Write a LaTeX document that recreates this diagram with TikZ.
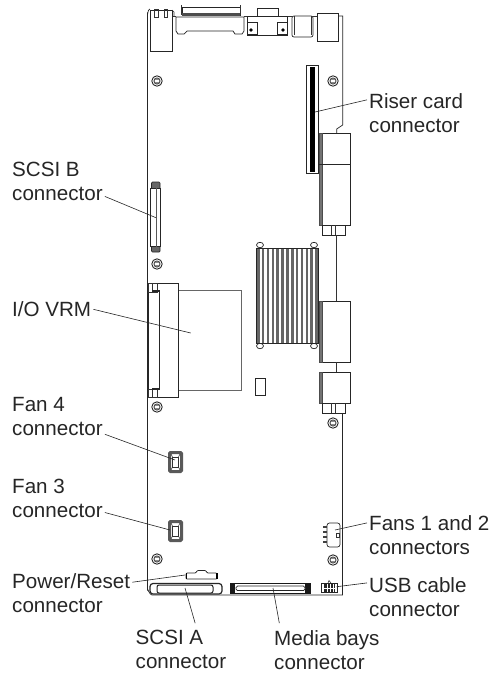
\documentclass[tikz,border=0pt]{standalone}
\usepackage{fontspec}
\setmainfont{Liberation Sans}
\begin{document}
\begin{tikzpicture}[x=1pt,y=-1pt,
  part/.style={draw=black!85,line width=0.7pt,fill=white},
  thin part/.style={draw=black!80,line width=0.55pt},
  grayband/.style={fill=black!55,draw=black!70,line width=0.4pt},
  lead/.style={draw=black!85,line width=0.6pt},
  lbl/.style={align=left,inner sep=2pt,text=black!85,font=\fontsize{20.6}{24}\selectfont},
  screw/.style={draw=black!85,line width=0.9pt,fill=white}]
\useasboundingbox (0,0) rectangle (494,673);
\fill[white] (0,0) rectangle (494,673);
% board outline
\draw[part,fill=none] (150,9) to[out=180,in=-90] (147.5,15) -- (147.5,590) to[out=90,in=180] (152,595) -- (342.5,595) -- (342.5,413) -- (335,413);
\draw[part,fill=none] (338,16) -- (342.7,16) -- (342.7,125) -- (336.7,129) -- (336.7,133);
\foreach \a/\b in {172/176,244/247,287/292,313/317}{\draw[thin part] (\a,16.5) -- (\b,16.5);}
% rj45
\draw[part] (150,10) rectangle (172,51);
\draw[thin part] (154,9) rectangle (158,17);
\draw[thin part] (164,9) rectangle (167,17);
\draw[thin part] (172,10) -- (174,12) -- (174,16);
% large D connector
\draw[part] (182,7) rectangle (240,15);
\fill[black!70] (182,13) rectangle (240,16);
\draw[thin part] (181,5) -- (181,15);
\draw[thin part] (240,5) -- (240,15);
\draw[part] (176,17) -- (244,17) -- (244,31) -- (242,34) -- (235,34) -- (233,31) -- (187,31) -- (184,34) -- (178,34) -- (176,31) -- cycle;
% vga
\draw[part] (257,8) rectangle (278,16);
\draw[part] (247,16) rectangle (287,35);
\draw[part] (247,22) rectangle (257,34);
\draw[part] (277,22) rectangle (287,34);
\fill[black] (251,30) circle (1.8);
\fill[black] (283,30) circle (1.8);
% usb / audio blocks
\draw[part,rounded corners=2pt] (292,16) -- (292,37) -- (313,37) -- (313,16) -- cycle;
\draw[thin part] (294,16) -- (294,35);
\draw[thin part] (311,16) -- (311,35);
\draw[part] (317,13) rectangle (338,41);
% screws
\foreach \n/\x/\y in {s1/157/81,s2/333/81,s3/157/264,s4/157/407,s5/333/423,s6/157/559,s7/333/560}{
  \draw[screw] (\x,\y) circle (5.2);
  \draw[thin part,fill=black!45] (\x,\y) circle (3.2);
  \fill[white] (\x-1.6,\y-0.9) rectangle (\x+1.6,\y+0.9);
}
% riser slot
\draw[part] (306,65) rectangle (318,173);
\fill[black] (309.5,67) rectangle (315,172);
% right stack
\draw[part] (319,133) rectangle (350,225);
\draw[grayband] (319,133) rectangle (322,225);
\draw[part,line width=0.9pt] (319,164) -- (350,164);
\draw[part] (322,225) rectangle (345,235);
\draw[thin part] (331,225) -- (331,235);
\draw[thin part] (335,225) -- (335,235);
\draw[thin part] (336,235) -- (336,301);
\draw[part] (319,301) rectangle (350,362);
\draw[grayband] (319,301) rectangle (322,362);
\draw[thin part] (336,362) -- (336,372);
\draw[part] (319,372) rectangle (350,403);
\draw[grayband] (319,372) rectangle (322,403);
\draw[part] (322,403) rectangle (345,413);
\draw[thin part] (331,403) -- (331,413);
\draw[thin part] (335,403) -- (335,413);
% heat sink
\foreach \x/\y in {260/245,314/245,260/346,314/346}{\draw[part] (\x,\y) ellipse (3.5 and 2.7);}
\fill[white] (256,248) rectangle (318,343);
\foreach \i in {0,...,12}{\fill[black!60] (257+\i*4.85,248) rectangle (259.6+\i*4.85,343);}
\draw[part,fill=none,line width=1pt] (256,248) rectangle (318,343);
% small rect
\draw[part] (255,378) rectangle (265,395);
% VRM
\draw[part,draw=black!60] (178,290) rectangle (241,390);
\draw[part] (148,283) rectangle (178,397);
\draw[part,line width=0.8pt] (159,291) -- (159,389);
\draw[thin part] (148,283) rectangle (157,292);
\draw[thin part] (148,389) rectangle (157,397);
\draw[thin part] (152,283) -- (152,292);
\draw[thin part] (152,389) -- (152,397);
\fill[black!85] (152,290) rectangle (160,292);
\fill[black!85] (152,388) rectangle (160,390);
% SCSI B
\draw[part,fill=black!60,rounded corners=1pt] (151.5,182) rectangle (160,252);
\draw[part,line width=0.9pt] (150.8,188) rectangle (160.3,246.5);
\draw[draw=black!65,line width=1pt] (156.5,188) -- (156.5,246.5);
% Fan connectors
\foreach \y in {451,520}{
  \draw[draw=black!65,line width=3pt,fill=white,rounded corners=1pt] (169.5,\y+1.5) rectangle (181.5,\y+20.5);
  \draw[thin part] (172.5,\y+6) rectangle (178.5,\y+16);
  \draw[thin part] (171,\y+3) -- (172.5,\y+6) (180,\y+3) -- (178.5,\y+6) (171,\y+19) -- (172.5,\y+16) (180,\y+19) -- (178.5,\y+16);
}
% Fans 1 and 2
\draw[part,rounded corners=2.5pt] (327,523) -- (340,523) -- (340,547) -- (327,547) -- cycle;
\foreach \y in {527,532,537,542}{\fill[black!75] (323,\y-1) rectangle (327,\y+1);}
\draw[thin part] (336,533) rectangle (339,537);
% Power/Reset
\draw[part,rounded corners=1pt] (186,573) -- (196,573) -- (197,570.5) -- (206,570.5) -- (207,573) -- (217,573) -- (217,579) -- (186,579) -- cycle;
\fill[black] (185.5,573) rectangle (187,579);
\fill[black] (216,573) rectangle (217.5,579);
% SCSI A
\draw[part,line width=1.2pt,rounded corners=3pt] (150,583.5) rectangle (222,594);
\draw[part,line width=1pt,rounded corners=2pt] (157,585) rectangle (213,593);
% Media bays
\fill[black!90] (230,583) rectangle (311,594);
\fill[white] (235,584) rectangle (305,593);
\draw[part,rounded corners=1.5pt] (236,586) rectangle (305,590.5);
% USB
\draw[part] (321,583) rectangle (337,592);
\fill[black!85] (324,584) rectangle (335,592);
\foreach \x in {327,330,333}{\draw[white,line width=0.4pt] (\x,584) -- (\x,592);}
\draw[white,line width=0.4pt] (324,588) -- (335,588);
\draw[thin part] (328,583) -- (329,580.5) -- (331,583);
% labels
\node[lbl,anchor=west] (riser) at (367,113) {Riser card\\connector};
\node[lbl,anchor=west] (scsib) at (10,181) {SCSI B\\connector};
\node[lbl,anchor=west] (vrm) at (10,309.3) {I/O VRM};
\node[lbl,anchor=west] (fan4) at (10,417) {Fan 4\\connector};
\node[lbl,anchor=west] (fan3) at (10,498) {Fan 3\\connector};
\node[lbl,anchor=west] (power) at (10,593) {Power/Reset\\connector};
\node[lbl,anchor=west] (fans) at (367,535) {Fans 1 and 2\\connectors};
\node[lbl,anchor=west] (usb) at (367,597.5) {USB cable\\connector};
\node[lbl,anchor=north west] (scsia) at (133.5,628) {SCSI A\\connector};
\node[lbl,anchor=north west] (media) at (272,628) {Media bays\\connector};
% leader ends
\coordinate (riserp) at (315,112);
\coordinate (scsibp) at (156,217.7);
\coordinate (vrmp) at (190.7,333);
\coordinate (fan4p) at (175,460);
\coordinate (fan3p) at (170,530);
\coordinate (powerp) at (185,575);
\coordinate (fansp) at (335,530);
\coordinate (usbp) at (336.7,586.7);
\coordinate (scsiap) at (185,588);
\coordinate (mediap) at (273,588);
% leaders
\draw[lead] (riser.165) -- (riserp);
\draw[lead] (scsib.-18) -- (scsibp);
\draw[lead] (vrm.east) -- (vrmp);
\draw[lead] (fan4.-20.8) -- (fan4p);
\draw[lead] (fan3.-17) -- (fan3p);
\draw[lead] (power.10.5) -- (powerp);
\draw[lead] (fans.169.3) -- (fansp);
\draw[lead] (usb.164.8) -- (usbp);
\draw[lead,shorten <=5pt] (scsia.54.5) -- (scsiap);
\draw[lead,shorten <=5pt] (media.155) -- (mediap);
\end{tikzpicture}
\end{document}
